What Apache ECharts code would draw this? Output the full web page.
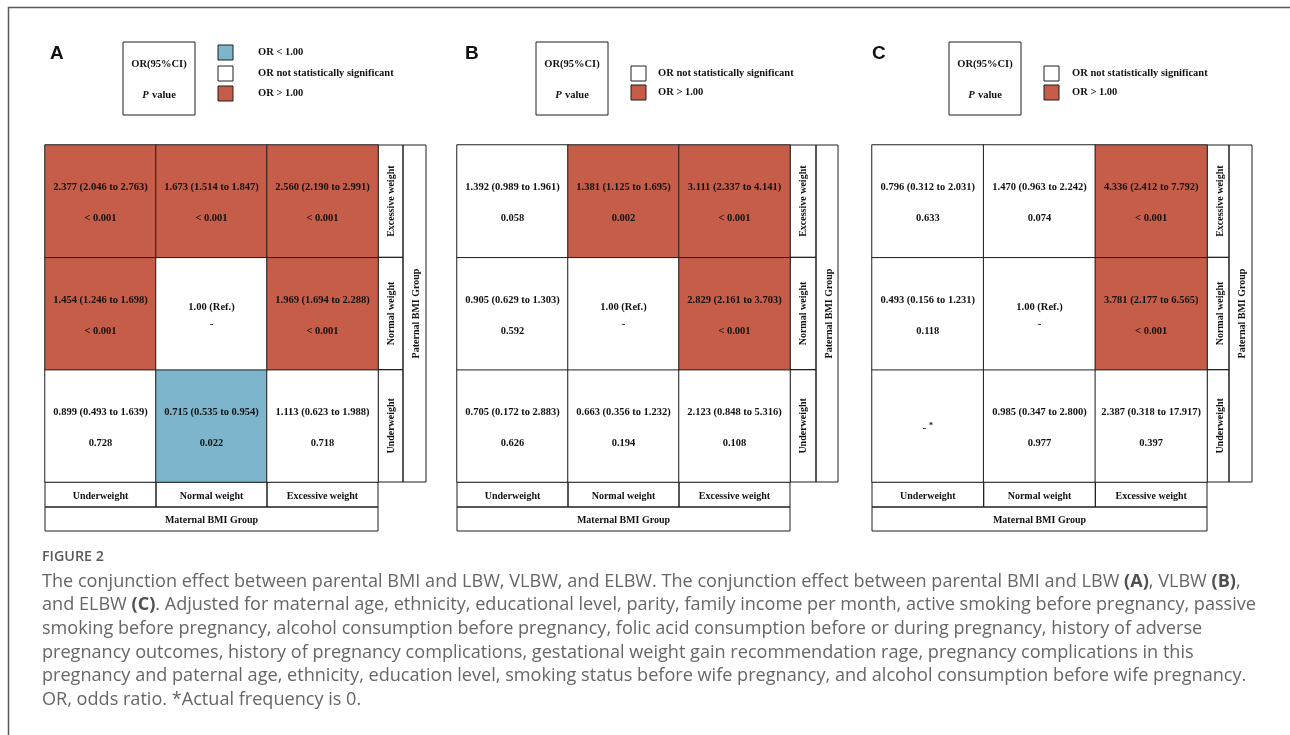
<!DOCTYPE html>
<html><head><meta charset="utf-8">
<script src="https://cdn.jsdelivr.net/npm/echarts@6/dist/echarts.min.js"></script>
<style>html,body{margin:0;padding:0;background:#fff}#c{width:1290px;height:735px}</style>
</head><body><div id="c"></div>
<script>
// Categories (x: maternal, y: paternal, bottom to top)
const maternalGroups = ['Underweight', 'Normal weight', 'Excessive weight'];
const paternalGroups = ['Underweight', 'Normal weight', 'Excessive weight'];
const panelLetters = ['A', 'B', 'C'];

// Rows = paternal group (Underweight, Normal weight, Excessive weight); cols = maternal group
// Panel A: LBW
const orA   = [['0.899','0.715','1.113'], ['1.454','1.00','1.969'], ['2.377','1.673','2.560']];
const loA   = [['0.493','0.535','0.623'], ['1.246',null,'1.694'], ['2.046','1.514','2.190']];
const hiA   = [['1.639','0.954','1.988'], ['1.698',null,'2.288'], ['2.763','1.847','2.991']];
const pA    = [['0.728','0.022','0.718'], ['<0.001',null,'<0.001'], ['<0.001','<0.001','<0.001']];
// Panel B: VLBW
const orB   = [['0.705','0.663','2.123'], ['0.905','1.00','2.829'], ['1.392','1.381','3.111']];
const loB   = [['0.172','0.356','0.848'], ['0.629',null,'2.161'], ['0.989','1.125','2.337']];
const hiB   = [['2.883','1.232','5.316'], ['1.303',null,'3.703'], ['1.961','1.695','4.141']];
const pB    = [['0.626','0.194','0.108'], ['0.592',null,'<0.001'], ['0.058','0.002','<0.001']];
// Panel C: ELBW (Underweight x Underweight: actual frequency is 0)
const orC   = [[null,'0.985','2.387'], ['0.493','1.00','3.781'], ['0.796','1.470','4.336']];
const loC   = [[null,'0.347','0.318'], ['0.156',null,'2.177'], ['0.312','0.963','2.412']];
const hiC   = [[null,'2.800','17.917'], ['1.231',null,'6.565'], ['2.031','2.242','7.792']];
const pC    = [[null,'0.977','0.397'], ['0.118',null,'<0.001'], ['0.633','0.074','<0.001']];

const legendA = ['OR < 1.00', 'OR not statistically significant', 'OR > 1.00'];
const legendBC = ['OR not statistically significant', 'OR > 1.00'];

const captionTitle = 'FIGURE 2';
const captionLines = [
  [['The conjunction effect between parental BMI and LBW, VLBW, and ELBW. The conjunction effect between parental BMI and LBW ',0],['(A)',1],[', VLBW ',0],['(B)',1],[',',0]],
  [['and ELBW ',0],['(C)',1],['. Adjusted for maternal age, ethnicity, educational level, parity, family income per month, active smoking before pregnancy, passive',0]],
  [['smoking before pregnancy, alcohol consumption before pregnancy, folic acid consumption before or during pregnancy, history of adverse',0]],
  [['pregnancy outcomes, history of pregnancy complications, gestational weight gain recommendation rage, pregnancy complications in this',0]],
  [['pregnancy and paternal age, ethnicity, education level, smoking status before wife pregnancy, and alcohol consumption before wife pregnancy.',0]],
  [['OR, odds ratio. *Actual frequency is 0.',0]]
];

// ---------- layout / style ----------
const RED = '#C55D49', BLUE = '#7DB6CC', LINE = '#1e1e1e';
const SERIF = '"Liberation Serif", "Times New Roman", serif';
const TOP = 145, H = 337;
const panels = [
  {left: 45,  width: 333, rowLab: 25, patW: 23, legBox: 78, legSq: 173, legTx: 213, legY: [45, 66, 86], letterX: 50, legend: legendA, data: [orA, loA, hiA, pA]},
  {left: 457, width: 333, rowLab: 26, patW: 22, legBox: 79, legSq: 174, legTx: 201, legY: [66, 85], letterX: 465, legend: legendBC, data: [orB, loB, hiB, pB]},
  {left: 872, width: 335, rowLab: 22, patW: 23, legBox: 77, legSq: 172, legTx: 200, legY: [66, 85], letterX: 872, legend: legendBC, data: [orC, loC, hiC, pC]}
];
const legColor = {'OR < 1.00': BLUE, 'OR not statistically significant': '#fff', 'OR > 1.00': RED};

function cls(or, p) {
  if (or === null || p === null) return 1;
  const sig = p === '<0.001' || parseFloat(p) < 0.05;
  if (!sig) return 1;
  return parseFloat(or) > 1 ? 2 : 0;
}
function fmtP(p) { return p === '<0.001' ? '< 0.001' : p; }

const grids = [], xAxes = [], yAxes = [], series = [], graphics = [];

// outer frame
graphics.push({type: 'polyline', shape: {points: [[8.5, 740], [8.5, 7.5], [1300, 7.5]]}, style: {stroke: '#5a5a5a', lineWidth: 1.5, fill: null}});

panels.forEach((pn, k) => {
  const [orM, loM, hiM, pM] = pn.data;
  grids.push({left: pn.left, top: TOP, width: pn.width, height: H, outerBoundsMode: 'none', containLabel: false});
  xAxes.push({
    type: 'category', gridIndex: k, data: maternalGroups, position: 'bottom',
    axisLine: {show: false}, axisTick: {show: false}, splitLine: {show: false},
    axisLabel: {margin: 9, fontFamily: SERIF, fontWeight: 'bold', fontSize: 10, color: '#111'},
    name: 'Maternal BMI Group', nameLocation: 'middle', nameGap: 33,
    nameTextStyle: {fontFamily: SERIF, fontWeight: 'bold', fontSize: 10, color: '#111'}
  });
  yAxes.push({
    type: 'category', gridIndex: k, data: paternalGroups, position: 'right',
    axisLine: {show: false}, axisTick: {show: false}, splitLine: {show: false},
    axisLabel: {rotate: 90, margin: 8, fontFamily: SERIF, fontWeight: 'bold', fontSize: 10, color: '#111'},
    name: 'Paternal BMI Group', nameLocation: 'middle', nameGap: pn.rowLab + 8, nameRotate: 90,
    nameTextStyle: {fontFamily: SERIF, fontWeight: 'bold', fontSize: 10, color: '#111'}
  });
  const data = [];
  for (let r = 0; r < 3; r++) for (let c = 0; c < 3; c++) {
    data.push([c, r, cls(orM[r][c], pM[r][c])]);
  }
  series.push({
    type: 'heatmap', xAxisIndex: k, yAxisIndex: k, data: data,
    itemStyle: {borderColor: LINE, borderWidth: 1},
    emphasis: {disabled: true},
    label: {
      show: true, offset: [0, 2],
      formatter: (p) => {
        const c = p.value[0], r = p.value[1];
        if (r === 1 && c === 1) return '{ref|' + orM[r][c] + ' (Ref.)}\n{ref|-}';
        if (orM[r][c] === null) return '{d|- }{s|*}';
        return '{v|' + orM[r][c] + ' (' + loM[r][c] + ' to ' + hiM[r][c] + ')}\n{v|' + fmtP(pM[r][c]) + '}';
      },
      rich: {
        v: {fontFamily: SERIF, fontWeight: 'bold', fontSize: 10.5, color: '#111', lineHeight: 31},
        ref: {fontFamily: SERIF, fontWeight: 'bold', fontSize: 10.5, color: '#111', lineHeight: 17},
        d: {fontFamily: SERIF, fontWeight: 'bold', fontSize: 10.5, color: '#111', lineHeight: 14},
        s: {fontFamily: SERIF, fontWeight: 'bold', fontSize: 8, color: '#111', lineHeight: 14, padding: [0, 0, 3, 0]}
      }
    }
  });

  // table frame boxes around axis labels
  const L = pn.left, W = pn.width, R = L + W;
  for (let i = 0; i < 3; i++) {
    graphics.push({type: 'rect', shape: {x: R, y: TOP + i * H / 3, width: pn.rowLab, height: H / 3}, style: {fill: null, stroke: LINE, lineWidth: 1}});
    graphics.push({type: 'rect', shape: {x: L + i * W / 3, y: TOP + H, width: W / 3, height: 25}, style: {fill: null, stroke: LINE, lineWidth: 1}});
  }
  graphics.push({type: 'rect', shape: {x: R + pn.rowLab, y: TOP, width: pn.patW, height: H}, style: {fill: null, stroke: LINE, lineWidth: 1}});
  graphics.push({type: 'rect', shape: {x: L, y: TOP + H + 25, width: W, height: 24}, style: {fill: null, stroke: LINE, lineWidth: 1}});

  // panel letter
  graphics.push({type: 'text', x: pn.letterX, y: 54, style: {text: panelLetters[k], font: 'bold 19px "Liberation Sans", Arial, sans-serif', fill: '#111', verticalAlign: 'middle', align: 'left'}});
  // key box
  const bx = L + pn.legBox;
  graphics.push({type: 'rect', shape: {x: bx, y: 42, width: 72, height: 73}, style: {fill: '#fff', stroke: LINE, lineWidth: 1}});
  graphics.push({type: 'text', x: bx + 36, y: 64, style: {text: 'OR(95%CI)', font: 'bold 10.5px ' + SERIF, fill: '#111', align: 'center', verticalAlign: 'middle'}});
  graphics.push({type: 'text', x: bx + 36, y: 95, style: {text: '{i|P} {n|value}', align: 'center', verticalAlign: 'middle',
    rich: {i: {fontFamily: SERIF, fontWeight: 'bold', fontStyle: 'italic', fontSize: 10.5, fill: '#111'}, n: {fontFamily: SERIF, fontWeight: 'bold', fontSize: 10.5, fill: '#111'}}}});
  // legend squares
  pn.legend.forEach((t, j) => {
    const y = pn.legY[j];
    graphics.push({type: 'rect', shape: {x: L + pn.legSq, y: y, width: 15, height: 15}, style: {fill: legColor[t], stroke: LINE, lineWidth: 1}});
    graphics.push({type: 'text', x: L + pn.legTx, y: y + 7, style: {text: t, font: 'bold 10.5px ' + SERIF, fill: '#111', align: 'left', verticalAlign: 'middle'}});
  });
});

// caption
graphics.push({type: 'text', x: 42, y: 557, style: {text: captionTitle, font: '600 14.3px "Open Sans", sans-serif', fill: '#5a5a5a', verticalAlign: 'middle'}});
captionLines.forEach((line, i) => {
  const txt = line.map(([s, b]) => '{' + (b ? 'b' : 'n') + '|' + s + '}').join('');
  graphics.push({type: 'text', x: 42, y: 581.5 + i * 23.7, style: {text: txt, verticalAlign: 'middle', align: 'left',
    rich: {n: {fontFamily: '"Open Sans", sans-serif', fontSize: 18.1, fill: '#666666'},
           b: {fontFamily: '"Open Sans", sans-serif', fontSize: 18.1, fontWeight: 'bold', fill: '#505050'}}}});
});

const chart = echarts.init(document.getElementById('c'), null, {renderer: 'canvas'});
chart.setOption({
  animation: false,
  backgroundColor: '#fff',
  grid: grids, xAxis: xAxes, yAxis: yAxes,
  visualMap: {type: 'piecewise', show: false, dimension: 2, seriesIndex: [0, 1, 2],
    pieces: [{value: 0, color: BLUE}, {value: 1, color: '#ffffff'}, {value: 2, color: RED}]},
  series: series,
  graphic: graphics
});
</script></body></html>
